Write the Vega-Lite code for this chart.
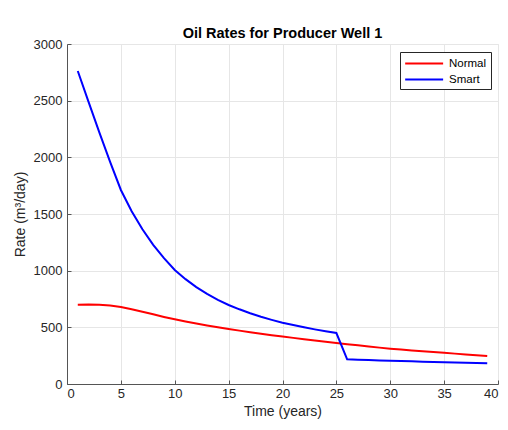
{
  "$schema": "https://vega.github.io/schema/vega-lite/v6.json",
  "width": 431,
  "height": 340,
  "autosize": {"type": "none"},
  "padding": {"left": 67, "top": 44, "right": 10, "bottom": 46},
  "background": "white",
  "title": {"text": "Oil Rates for Producer Well 1", "font": "Liberation Sans", "fontSize": 14.5, "fontWeight": "bold", "color": "#000000", "offset": -3, "anchor": "middle"},
  "config": {
    "view": {"stroke": "#e6e6e6", "strokeWidth": 1},
    "axis": {"labelFont": "Liberation Sans", "titleFont": "Liberation Sans", "labelFontSize": 13, "titleFontSize": 14, "labelColor": "#262626", "titleColor": "#262626", "titleFontWeight": "normal", "domainColor": "#555555", "tickColor": "#555555", "gridColor": "#e6e6e6", "gridOpacity": 1, "domainWidth": 1, "format": "d"}
  },
  "data": {"values": [
    {"t": 1, "series": "Normal", "rate": 700},
    {"t": 2, "series": "Normal", "rate": 702},
    {"t": 3, "series": "Normal", "rate": 700},
    {"t": 4, "series": "Normal", "rate": 693},
    {"t": 5, "series": "Normal", "rate": 679},
    {"t": 6, "series": "Normal", "rate": 660},
    {"t": 7, "series": "Normal", "rate": 638},
    {"t": 8, "series": "Normal", "rate": 615},
    {"t": 9, "series": "Normal", "rate": 592},
    {"t": 10, "series": "Normal", "rate": 571},
    {"t": 11, "series": "Normal", "rate": 551},
    {"t": 12, "series": "Normal", "rate": 533},
    {"t": 13, "series": "Normal", "rate": 517},
    {"t": 14, "series": "Normal", "rate": 500},
    {"t": 15, "series": "Normal", "rate": 485},
    {"t": 16, "series": "Normal", "rate": 471},
    {"t": 17, "series": "Normal", "rate": 457},
    {"t": 18, "series": "Normal", "rate": 444},
    {"t": 19, "series": "Normal", "rate": 431},
    {"t": 20, "series": "Normal", "rate": 419},
    {"t": 21, "series": "Normal", "rate": 407},
    {"t": 22, "series": "Normal", "rate": 395},
    {"t": 23, "series": "Normal", "rate": 383},
    {"t": 24, "series": "Normal", "rate": 372},
    {"t": 25, "series": "Normal", "rate": 362},
    {"t": 26, "series": "Normal", "rate": 351},
    {"t": 27, "series": "Normal", "rate": 341},
    {"t": 28, "series": "Normal", "rate": 331},
    {"t": 29, "series": "Normal", "rate": 321},
    {"t": 30, "series": "Normal", "rate": 312},
    {"t": 31, "series": "Normal", "rate": 304},
    {"t": 32, "series": "Normal", "rate": 296},
    {"t": 33, "series": "Normal", "rate": 289},
    {"t": 34, "series": "Normal", "rate": 282},
    {"t": 35, "series": "Normal", "rate": 275},
    {"t": 36, "series": "Normal", "rate": 268},
    {"t": 37, "series": "Normal", "rate": 261},
    {"t": 38, "series": "Normal", "rate": 254},
    {"t": 39, "series": "Normal", "rate": 247},
    {"t": 1, "series": "Smart", "rate": 2762},
    {"t": 2, "series": "Smart", "rate": 2490},
    {"t": 3, "series": "Smart", "rate": 2220},
    {"t": 4, "series": "Smart", "rate": 1960},
    {"t": 5, "series": "Smart", "rate": 1712},
    {"t": 6, "series": "Smart", "rate": 1525},
    {"t": 7, "series": "Smart", "rate": 1365},
    {"t": 8, "series": "Smart", "rate": 1228},
    {"t": 9, "series": "Smart", "rate": 1110},
    {"t": 10, "series": "Smart", "rate": 1006},
    {"t": 11, "series": "Smart", "rate": 925},
    {"t": 12, "series": "Smart", "rate": 855},
    {"t": 13, "series": "Smart", "rate": 795},
    {"t": 14, "series": "Smart", "rate": 742},
    {"t": 15, "series": "Smart", "rate": 697},
    {"t": 16, "series": "Smart", "rate": 659},
    {"t": 17, "series": "Smart", "rate": 624},
    {"t": 18, "series": "Smart", "rate": 593},
    {"t": 19, "series": "Smart", "rate": 566},
    {"t": 20, "series": "Smart", "rate": 541},
    {"t": 21, "series": "Smart", "rate": 520},
    {"t": 22, "series": "Smart", "rate": 500},
    {"t": 23, "series": "Smart", "rate": 482},
    {"t": 24, "series": "Smart", "rate": 465},
    {"t": 25, "series": "Smart", "rate": 450},
    {"t": 26, "series": "Smart", "rate": 218},
    {"t": 27, "series": "Smart", "rate": 214},
    {"t": 28, "series": "Smart", "rate": 211},
    {"t": 29, "series": "Smart", "rate": 208},
    {"t": 30, "series": "Smart", "rate": 205},
    {"t": 31, "series": "Smart", "rate": 202},
    {"t": 32, "series": "Smart", "rate": 200},
    {"t": 33, "series": "Smart", "rate": 197},
    {"t": 34, "series": "Smart", "rate": 195},
    {"t": 35, "series": "Smart", "rate": 192},
    {"t": 36, "series": "Smart", "rate": 190},
    {"t": 37, "series": "Smart", "rate": 187},
    {"t": 38, "series": "Smart", "rate": 185},
    {"t": 39, "series": "Smart", "rate": 182}
  ]},
  "mark": {"type": "line", "strokeWidth": 2, "clip": true},
  "encoding": {
    "x": {"field": "t", "type": "quantitative", "scale": {"domain": [0, 40], "nice": false}, "axis": {"title": "Time (years)", "values": [0,5,10,15,20,25,30,35,40], "tickSize": -4, "labelPadding": 7, "titlePadding": 4, "grid": true}},
    "y": {"field": "rate", "type": "quantitative", "scale": {"domain": [0, 3000], "nice": false}, "axis": {"title": "Rate (m³/day)", "values": [0,500,1000,1500,2000,2500,3000], "tickSize": -4, "labelPadding": 9, "titlePadding": 6, "grid": true}},
    "color": {"field": "series", "type": "nominal", "scale": {"domain": ["Normal", "Smart"], "range": ["#ff0000", "#0000ff"]},
      "legend": {"title": null, "orient": "none", "legendX": 333, "legendY": 8, "symbolType": "M-1,0H5", "symbolSize": 160, "symbolStrokeWidth": 2, "labelFont": "Liberation Sans", "labelFontSize": 11.5, "labelColor": "#000000", "strokeColor": "#262626", "fillColor": "#ffffff", "padding": 4, "rowPadding": 3, "labelOffset": 30}
    }
  }
}
